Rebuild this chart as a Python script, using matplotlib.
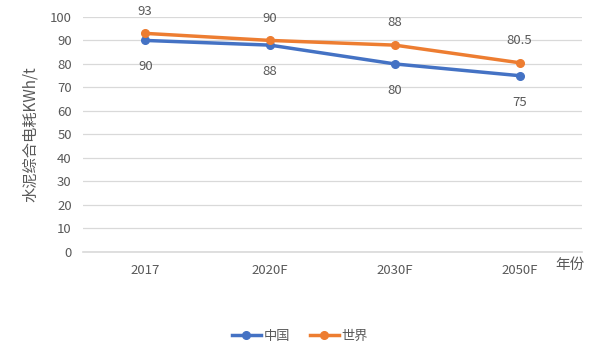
import matplotlib.pyplot as plt

plt.rcParams['font.family'] = ['Noto Sans CJK SC', 'DejaVu Sans']

anni = ['2017', '2020F', '2030F', '2050F']
cina = [90, 88, 80, 75]
mondo = [93, 90, 88, 80.5]
etichette_cina = ['90', '88', '80', '75']
etichette_mondo = ['93', '90', '88', '80.5']

grigio = '#595959'
blu = '#4472C4'
arancio = '#ED7D31'

fig = plt.figure(figsize=(6, 3.6), dpi=100)
ax = fig.add_axes([0.138, 0.30, 0.832, 0.653])

x = range(len(anni))
ax.plot(x, cina, color=blu, lw=2.5, marker='o', ms=5.5, label='中国')
ax.plot(x, mondo, color=arancio, lw=2.5, marker='o', ms=5.5, label='世界')

for i in x:
    ax.annotate(etichette_cina[i], (i, cina[i]), xytext=(0, -19), textcoords='offset points',
                ha='center', va='center', fontsize=9.5, color=grigio)
    ax.annotate(etichette_mondo[i], (i, mondo[i]), xytext=(0, 16), textcoords='offset points',
                ha='center', va='center', fontsize=9.5, color=grigio)

ax.set_xlim(-0.5, 3.5)
ax.set_ylim(0, 100)
ax.set_yticks(range(0, 101, 10))
ax.set_xticks(list(x))
ax.set_xticklabels(anni)
ax.tick_params(length=0, colors=grigio, labelsize=9.5)
ax.tick_params(axis='y', pad=8)
ax.tick_params(axis='x', pad=9)
ax.grid(axis='y', color='#D9D9D9', lw=0.9)
ax.set_axisbelow(True)
for s in ax.spines.values():
    s.set_visible(False)
ax.axhline(0, color='#D9D9D9', lw=1.2, clip_on=False, zorder=0)

ax.set_ylabel('水泥综合电耗KWh/t', color=grigio, fontsize=11, labelpad=8)
fig.text(0.95, 0.265, '年份', color=grigio, fontsize=10.5, ha='center', va='center')

fig.legend(loc='center', bbox_to_anchor=(0.5, 0.065), ncol=2, frameon=False,
           fontsize=9.5, labelcolor=grigio, handlelength=2.2, handletextpad=0.2, columnspacing=1.5)

fig.savefig('out.png', dpi=100)
